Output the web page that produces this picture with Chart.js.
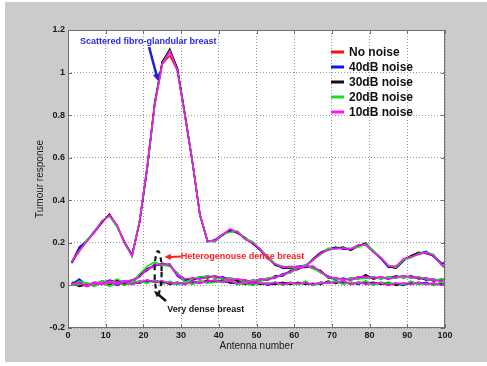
<!DOCTYPE html>
<html>
<head>
<meta charset="utf-8">
<script src="https://cdn.jsdelivr.net/npm/chart.js@4.4.0/dist/chart.umd.min.js"></script>
<style>
  html, body { margin: 0; padding: 0; background: #ffffff; }
  #wrap { width: 487px; height: 366px; }
</style>
</head>
<body>
<div id="wrap"><canvas id="mycanvas" width="487" height="366"></canvas></div>
<script>
// antenna positions shared by every curve
const antennas = [1, 3, 5, 7, 9, 11, 13, 15, 17, 19, 21, 23, 25, 27, 29, 31, 33, 35, 37, 39,
  41, 43, 45, 47, 49, 51, 53, 55, 57, 59, 61, 63, 65, 67, 69, 71, 73, 75, 77, 79,
  81, 83, 85, 87, 89, 91, 93, 95, 97, 99, 100];

const noiseLabels = ['No noise', '40dB noise', '30dB noise', '20dB noise', '10dB noise'];

const antennaTicks = [0, 10, 20, 30, 40, 50, 60, 70, 80, 90, 100];
const antennaTickLabels = ['0', '10', '20', '30', '40', '50', '60', '70', '80', '90', '100'];
const responseTicks = [-0.2, 0, 0.2, 0.4, 0.6, 0.8, 1, 1.2];
const responseTickLabels = ['-0.2', '0', '0.2', '0.4', '0.6', '0.8', '1', '1.2'];

// scattered fibro-glandular breast
const scatteredNoNoise = [0.11, 0.16, 0.21, 0.25, 0.30, 0.33, 0.28, 0.20, 0.14, 0.30, 0.55, 0.85, 1.04, 1.08, 1.01, 0.80, 0.58, 0.33, 0.21, 0.21,
  0.24, 0.26, 0.25, 0.22, 0.20, 0.17, 0.13, 0.10, 0.085, 0.085, 0.085, 0.09, 0.12, 0.15, 0.17, 0.175, 0.175, 0.17, 0.185, 0.195,
  0.16, 0.13, 0.09, 0.085, 0.12, 0.135, 0.15, 0.155, 0.14, 0.10, 0.085];
const scattered40dB = [0.11, 0.18, 0.21, 0.255, 0.30, 0.33, 0.28, 0.20, 0.145, 0.30, 0.55, 0.85, 1.05, 1.10, 1.02, 0.80, 0.58, 0.33, 0.205, 0.215,
  0.24, 0.255, 0.25, 0.22, 0.20, 0.165, 0.13, 0.10, 0.08, 0.085, 0.09, 0.095, 0.12, 0.15, 0.17, 0.18, 0.17, 0.17, 0.19, 0.19,
  0.16, 0.125, 0.085, 0.09, 0.12, 0.14, 0.15, 0.16, 0.135, 0.10, 0.11];
const scattered30dB = [0.105, 0.17, 0.21, 0.25, 0.295, 0.335, 0.28, 0.205, 0.14, 0.30, 0.55, 0.86, 1.05, 1.11, 1.02, 0.81, 0.58, 0.33, 0.21, 0.21,
  0.235, 0.26, 0.245, 0.225, 0.195, 0.17, 0.13, 0.095, 0.085, 0.08, 0.085, 0.09, 0.125, 0.155, 0.17, 0.175, 0.18, 0.165, 0.185, 0.20,
  0.16, 0.13, 0.09, 0.08, 0.115, 0.14, 0.155, 0.15, 0.14, 0.105, 0.08];
const scattered20dB = [0.115, 0.16, 0.215, 0.25, 0.305, 0.325, 0.275, 0.20, 0.135, 0.31, 0.55, 0.85, 1.04, 1.10, 1.01, 0.80, 0.585, 0.33, 0.21, 0.205,
  0.24, 0.25, 0.255, 0.22, 0.205, 0.17, 0.135, 0.10, 0.09, 0.085, 0.08, 0.095, 0.12, 0.145, 0.175, 0.17, 0.175, 0.175, 0.18, 0.195,
  0.165, 0.13, 0.095, 0.085, 0.12, 0.13, 0.15, 0.155, 0.145, 0.095, 0.08];
const scattered10dB = [0.11, 0.165, 0.205, 0.25, 0.30, 0.33, 0.285, 0.20, 0.14, 0.30, 0.56, 0.85, 1.04, 1.10, 1.01, 0.80, 0.58, 0.335, 0.21, 0.21,
  0.24, 0.265, 0.25, 0.215, 0.20, 0.17, 0.125, 0.10, 0.085, 0.09, 0.085, 0.09, 0.12, 0.15, 0.165, 0.175, 0.175, 0.17, 0.19, 0.19,
  0.155, 0.13, 0.09, 0.09, 0.125, 0.135, 0.145, 0.155, 0.14, 0.10, 0.085];

// heterogeneously dense breast
const heteroNoNoise = [0.01, 0.015, 0.005, 0.01, 0.015, 0.02, 0.02, 0.015, 0.02, 0.045, 0.075, 0.095, 0.10, 0.095, 0.05, 0.025, 0.03, 0.035, 0.04, 0.04,
  0.035, 0.03, 0.025, 0.02, 0.02, 0.025, 0.03, 0.04, 0.05, 0.065, 0.08, 0.09, 0.085, 0.065, 0.04, 0.03, 0.03, 0.03, 0.035, 0.04,
  0.035, 0.035, 0.035, 0.04, 0.04, 0.04, 0.035, 0.03, 0.025, 0.025, 0.025];
const hetero40dB = [0.005, 0.03, 0.0, 0.015, 0.01, 0.025, 0.015, 0.02, 0.01, 0.05, 0.07, 0.10, 0.095, 0.10, 0.045, 0.02, 0.035, 0.03, 0.045, 0.035,
  0.04, 0.025, 0.03, 0.015, 0.025, 0.02, 0.035, 0.035, 0.055, 0.06, 0.085, 0.085, 0.09, 0.06, 0.045, 0.025, 0.035, 0.025, 0.04, 0.035,
  0.04, 0.03, 0.04, 0.035, 0.045, 0.035, 0.04, 0.025, 0.03, 0.02, 0.03];
const hetero30dB = [0.015, 0.01, 0.01, 0.005, 0.02, 0.015, 0.025, 0.01, 0.025, 0.04, 0.08, 0.09, 0.105, 0.09, 0.055, 0.03, 0.025, 0.04, 0.035, 0.045,
  0.03, 0.035, 0.02, 0.025, 0.015, 0.03, 0.025, 0.045, 0.045, 0.07, 0.075, 0.095, 0.08, 0.07, 0.035, 0.035, 0.025, 0.035, 0.03, 0.05,
  0.03, 0.04, 0.03, 0.045, 0.035, 0.045, 0.03, 0.035, 0.02, 0.03, 0.02];
const hetero20dB = [0.0, 0.02, 0.01, 0.005, 0.02, 0.01, 0.03, 0.015, 0.015, 0.055, 0.09, 0.11, 0.095, 0.09, 0.06, 0.015, 0.03, 0.04, 0.045, 0.035,
  0.03, 0.035, 0.03, 0.015, 0.025, 0.02, 0.035, 0.04, 0.05, 0.06, 0.085, 0.095, 0.08, 0.06, 0.04, 0.03, 0.025, 0.035, 0.03, 0.035,
  0.04, 0.03, 0.04, 0.035, 0.04, 0.035, 0.04, 0.03, 0.025, 0.03, 0.03];
const hetero10dB = [0.01, 0.01, 0.0, 0.015, 0.01, 0.02, 0.015, 0.02, 0.025, 0.04, 0.075, 0.095, 0.10, 0.10, 0.05, 0.03, 0.035, 0.03, 0.04, 0.045,
  0.035, 0.025, 0.03, 0.025, 0.015, 0.03, 0.025, 0.04, 0.05, 0.065, 0.08, 0.09, 0.09, 0.065, 0.04, 0.035, 0.03, 0.025, 0.04, 0.04,
  0.035, 0.04, 0.03, 0.04, 0.045, 0.04, 0.035, 0.035, 0.025, 0.02, 0.025];

// very dense breast
const denseNoNoise = [0.005, 0.0, 0.0, 0.005, 0.01, 0.01, 0.005, 0.01, 0.01, 0.015, 0.02, 0.02, 0.015, 0.01, 0.01, 0.01, 0.015, 0.015, 0.02, 0.02,
  0.02, 0.015, 0.01, 0.01, 0.01, 0.01, 0.005, 0.01, 0.01, 0.01, 0.01, 0.01, 0.005, 0.01, 0.015, 0.015, 0.015, 0.01, 0.01, 0.015,
  0.01, 0.01, 0.01, 0.005, 0.005, 0.01, 0.01, 0.01, 0.005, 0.01, 0.01];
const dense40dB = [0.0, 0.025, -0.005, 0.01, 0.005, 0.015, 0.0, 0.015, 0.005, 0.02, 0.015, 0.025, 0.01, 0.015, 0.005, 0.015, 0.01, 0.02, 0.015, 0.025,
  0.015, 0.02, 0.005, 0.015, 0.005, 0.015, 0.0, 0.015, 0.005, 0.015, 0.005, 0.015, 0.0, 0.015, 0.01, 0.02, 0.01, 0.015, 0.005, 0.02,
  0.005, 0.015, 0.005, 0.01, 0.0, 0.015, 0.005, 0.015, 0.0, 0.015, 0.005];
const dense30dB = [0.01, -0.005, 0.005, 0.0, 0.015, 0.005, 0.01, 0.005, 0.015, 0.01, 0.025, 0.015, 0.02, 0.005, 0.015, 0.005, 0.02, 0.01, 0.025, 0.015,
  0.025, 0.01, 0.015, 0.005, 0.015, 0.005, 0.01, 0.005, 0.015, 0.005, 0.015, 0.005, 0.01, 0.005, 0.02, 0.01, 0.02, 0.005, 0.015, 0.01,
  0.015, 0.005, 0.015, 0.0, 0.01, 0.005, 0.015, 0.005, 0.01, 0.005, 0.015];
const dense20dB = [0.0, 0.005, 0.01, -0.005, 0.015, -0.005, 0.015, 0.0, 0.015, 0.02, 0.01, 0.025, 0.005, 0.02, 0.005, 0.015, 0.005, 0.02, 0.01, 0.015,
  0.02, 0.025, 0.005, 0.01, 0.0, 0.015, 0.01, 0.015, 0.0, 0.015, 0.005, 0.02, 0.0, 0.01, 0.015, 0.02, 0.005, 0.015, 0.01, 0.02,
  0.0, 0.015, 0.01, 0.01, 0.005, 0.02, 0.005, 0.01, 0.0, 0.015, 0.01];
const dense10dB = [0.005, 0.01, -0.005, 0.01, 0.005, 0.015, 0.005, 0.015, 0.005, 0.015, 0.025, 0.015, 0.02, 0.01, 0.015, 0.005, 0.02, 0.01, 0.02, 0.025,
  0.015, 0.02, 0.01, 0.015, 0.01, 0.01, 0.005, 0.015, 0.005, 0.01, 0.01, 0.01, 0.005, 0.015, 0.01, 0.015, 0.02, 0.005, 0.015, 0.005,
  0.01, 0.01, 0.0, 0.01, 0.01, 0.005, 0.015, 0.005, 0.01, 0.0, 0.01];

const lineColours = ['#ff1010', '#1010ff', '#101010', '#18e018', '#ff10ff'];
const FONT = "'Liberation Sans', Arial, sans-serif";

const groups = [
  [scatteredNoNoise, scattered40dB, scattered30dB, scattered20dB, scattered10dB],
  [heteroNoNoise, hetero40dB, hetero30dB, hetero20dB, hetero10dB],
  [denseNoNoise, dense40dB, dense30dB, dense20dB, dense10dB]
];

let datasets = [];
groups.forEach(series => {
  series.forEach((values, level) => {
    datasets.push({
      label: noiseLabels[level],
      data: values.map((v, i) => ({ x: antennas[i], y: v })),
      borderColor: lineColours[level],
      borderWidth: 1.6,
      pointRadius: 0,
      tension: 0,
      // 10dB on top, no-noise at the bottom
      order: 4 - level
    });
  });
});

function toPx(chart, ant, val) {
  return [chart.scales.x.getPixelForValue(ant), chart.scales.y.getPixelForValue(val)];
}

function arrow(ctx, x1, y1, x2, y2, colour, width, head) {
  let a = Math.atan2(y2 - y1, x2 - x1);
  ctx.save();
  ctx.strokeStyle = colour;
  ctx.fillStyle = colour;
  ctx.lineWidth = width;
  ctx.beginPath();
  ctx.moveTo(x1, y1);
  ctx.lineTo(x2 - Math.cos(a) * head * 0.8, y2 - Math.sin(a) * head * 0.8);
  ctx.stroke();
  ctx.beginPath();
  ctx.moveTo(x2, y2);
  ctx.lineTo(x2 - head * Math.cos(a - 0.45), y2 - head * Math.sin(a - 0.45));
  ctx.lineTo(x2 - head * Math.cos(a + 0.45), y2 - head * Math.sin(a + 0.45));
  ctx.closePath();
  ctx.fill();
  ctx.restore();
}

const figureBackground = {
  id: 'figureBackground',
  beforeDraw(chart) {
    const { ctx, chartArea } = chart;
    ctx.save();
    ctx.fillStyle = '#ffffff';
    ctx.fillRect(0, 0, chart.width, chart.height);
    ctx.fillStyle = '#cbcbcb';
    ctx.fillRect(5, 2, chart.width - 5, chart.height - 6);
    ctx.fillStyle = '#ffffff';
    ctx.fillRect(chartArea.left, chartArea.top, chartArea.right - chartArea.left, chartArea.bottom - chartArea.top);
    ctx.restore();
  }
};

const axesBox = {
  id: 'axesBox',
  afterDatasetsDraw(chart) {
    const { ctx, chartArea, scales } = chart;
    const l = chartArea.left, r = chartArea.right, t = chartArea.top, b = chartArea.bottom;
    ctx.save();
    ctx.strokeStyle = '#707070';
    ctx.lineWidth = 1;
    ctx.strokeRect(l + 0.5, t + 0.5, r - l - 1, b - t - 1);
    // inward ticks on all four sides
    ctx.beginPath();
    antennaTicks.forEach(v => {
      let x = Math.round(scales.x.getPixelForValue(v)) + 0.5;
      ctx.moveTo(x, b); ctx.lineTo(x, b - 4);
      ctx.moveTo(x, t); ctx.lineTo(x, t + 4);
    });
    responseTicks.forEach(v => {
      let y = Math.round(scales.y.getPixelForValue(v)) + 0.5;
      ctx.moveTo(l, y); ctx.lineTo(l + 4, y);
      ctx.moveTo(r, y); ctx.lineTo(r - 4, y);
    });
    ctx.stroke();

    // annotations
    ctx.font = 'bold 9px ' + FONT;
    ctx.textBaseline = 'middle';
    ctx.textAlign = 'left';

    let p = toPx(chart, 3.2, 1.148);
    ctx.fillStyle = '#2b2bdc';
    ctx.fillText('Scattered fibro-glandular breast', p[0], p[1]);
    let a1 = toPx(chart, 21.5, 1.12), a2 = toPx(chart, 23.9, 0.96);
    arrow(ctx, a1[0], a1[1], a2[0], a2[1], '#2020d0', 2.5, 8);

    p = toPx(chart, 29.9, 0.138);
    ctx.fillStyle = '#ff1e1e';
    ctx.fillText('Heterogenouse dense breast', p[0], p[1]);
    a1 = toPx(chart, 30.0, 0.136); a2 = toPx(chart, 25.6, 0.133);
    arrow(ctx, a1[0], a1[1], a2[0], a2[1], '#ff1e1e', 2, 7);

    p = toPx(chart, 26.3, -0.111);
    ctx.fillStyle = '#151515';
    ctx.fillText('Very dense breast', p[0], p[1]);
    a1 = toPx(chart, 26.0, -0.073); a2 = toPx(chart, 22.8, -0.026);
    arrow(ctx, a1[0], a1[1], a2[0], a2[1], '#151515', 2.5, 7);

    // dashed marker round the low curves
    let c = toPx(chart, 23.9, 0.063);
    ctx.strokeStyle = '#151515';
    ctx.lineWidth = 2.2;
    ctx.setLineDash([5, 4]);
    ctx.beginPath();
    ctx.ellipse(c[0], c[1], 3.5, 21, 0, 0, Math.PI * 2);
    ctx.stroke();
    ctx.setLineDash([]);

    // legend
    ctx.font = 'bold 12px ' + FONT;
    noiseLabels.forEach((label, i) => {
      let y = t + 22 + i * 15;
      ctx.strokeStyle = lineColours[i];
      ctx.lineWidth = 3;
      ctx.beginPath();
      ctx.moveTo(r - 114, y);
      ctx.lineTo(r - 101, y);
      ctx.stroke();
      ctx.fillStyle = '#111111';
      ctx.fillText(label, r - 96, y + 0.5);
    });
    ctx.restore();
  }
};

let ctx = document.getElementById('mycanvas').getContext('2d');

new Chart(ctx, {
  type: 'line',
  data: { datasets: datasets },
  options: {
    responsive: false,
    animation: false,
    layout: { padding: { left: 30, right: 42, top: 30, bottom: 10 } },
    plugins: {
      legend: { display: false },
      tooltip: { enabled: false }
    },
    scales: {
      x: {
        type: 'linear',
        min: 0,
        max: 100,
        afterBuildTicks: scale => { scale.ticks = antennaTicks.map(v => ({ value: v })); },
        afterFit: scale => { scale.height = 28; },
        grid: { color: '#9a9a9a', drawTicks: false },
        border: { display: false, dash: [1, 2] },
        ticks: {
          padding: 2,
          maxRotation: 0,
          color: '#1a1a1a',
          font: { family: FONT, size: 9, weight: 'bold' },
          callback: (v, i) => antennaTickLabels[i]
        },
        title: {
          display: true,
          text: 'Antenna number',
          color: '#1a1a1a',
          font: { family: FONT, size: 10 },
          padding: { top: 0, bottom: 4 }
        }
      },
      y: {
        min: -0.2,
        max: 1.2,
        afterBuildTicks: scale => { scale.ticks = responseTicks.map(v => ({ value: v })); },
        afterFit: scale => { scale.width = 38; },
        grid: { color: '#9a9a9a', drawTicks: false },
        border: { display: false, dash: [1, 2] },
        ticks: {
          padding: 3,
          color: '#1a1a1a',
          font: { family: FONT, size: 9, weight: 'bold' },
          callback: (v, i) => responseTickLabels[i]
        },
        title: {
          display: true,
          text: 'Tumour response',
          color: '#1a1a1a',
          font: { family: FONT, size: 10 },
          padding: { top: 4, bottom: 0 }
        }
      }
    }
  },
  plugins: [figureBackground, axesBox]
});
</script>
</body>
</html>
